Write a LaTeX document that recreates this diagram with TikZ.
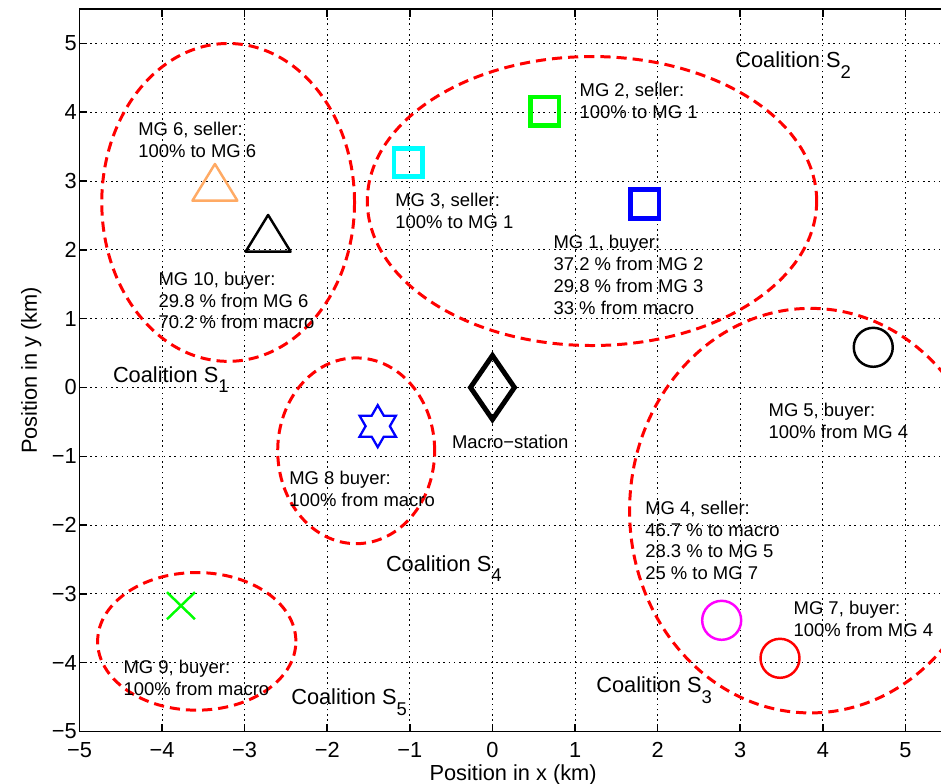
\documentclass[tikz,border=0pt]{standalone}
\usepackage{fontspec}
\setmainfont{Liberation Sans}
\usetikzlibrary{shapes.geometric}
\definecolor{mgorange}{RGB}{255,170,100}
\definecolor{mgcyan}{RGB}{0,255,255}
\definecolor{mgmagenta}{RGB}{255,0,255}
\definecolor{mggreen}{RGB}{0,255,0}
\definecolor{mgblue}{RGB}{0,0,255}
\definecolor{mgred}{RGB}{255,0,0}
\newcommand\coalsub[1]{\raisebox{-6pt}{\fontsize{10.5}{10.5}\selectfont #1}}
\begin{document}
\begin{tikzpicture}[x=1.652cm,y=1.376cm,
  gridline/.style={line width=0.6pt,dash pattern=on 0.9pt off 2.1pt},
  axisline/.style={line width=0.9pt},
  coal/.style={mgred,line width=1.7pt,dash pattern=on 5.8pt off 3.4pt},
  ann/.style={anchor=north west,align=left,inner sep=0pt,font=\fontsize{10.5}{12.4}\selectfont},
  big/.style={inner sep=0pt,font=\fontsize{12.4}{14}\selectfont},
  sqmark/.style={draw,rectangle,line width=2.6pt,minimum size=0.57cm,inner sep=0pt},
  circmark/.style={draw,circle,line width=1.4pt,minimum size=0.78cm,inner sep=0pt},
]
\useasboundingbox (-5.962,-5.763) rectangle (5.430,5.632);
\fill[white] (-5.962,-5.763) rectangle (5.430,5.632);

% grid
\foreach \x in {-4,...,5} \draw[gridline] (\x,-5) -- (\x,5.5);
\foreach \y in {-4,...,5} \draw[gridline] (-5,\y) -- (5.5,\y);

% ticks
\foreach \x in {-5,...,5} {
  \draw[axisline] (\x,-5) -- ++(0pt,4.3pt);
  \draw[axisline] (\x,5.5) -- ++(0pt,-4.3pt);
}
\foreach \y in {-5,...,5} {
  \draw[axisline] (-5,\y) -- ++(4.3pt,0pt);
}
% axes box
\draw[axisline] (-5,5.5) -- (-5,-5) -- (5.5,-5) -- (5.5,5.5) -- cycle;

% tick labels
\foreach \y/\l in {5/5,4/4,3/3,2/2,1/1,0/0,-1/−1,-2/−2,-3/−3,-4/−4,-5/−5}
  \node[big,anchor=east] (yl\y) at (-5.03,\y) {\l};
\foreach \x/\l in {5/5,4/4,3/3,2/2,1/1,0/0,-1/−1,-2/−2,-3/−3,-4/−4,-5/−5}
  \node[big,anchor=center] (xl\x) at (\x,-5.273) {\l};

% axis labels
\node[big,anchor=base] (xlabel) at (0.25,-5.709) {Position in x (km)};
\node[big,anchor=base,rotate=90] (ylabel) at (-5.515,0.25) {Position in y (km)};

% coalitions
\begin{scope}
\clip (-5,-5) rectangle (5.5,5.5);
\draw[coal] (-3.20,2.69) ellipse [x radius=1.53, y radius=2.31];
\draw[coal] (1.205,2.71) ellipse [x radius=2.72, y radius=2.10];
\draw[coal] (3.85,-1.79) ellipse [x radius=2.19, y radius=2.94];
\draw[coal] (-1.65,-0.92) ellipse [x radius=0.95, y radius=1.35];
\draw[coal] (-3.58,-3.69) ellipse [x radius=1.20, y radius=1.00];
\end{scope}

% markers
\coordinate (mg6) at (-3.360,2.982);
\draw[mgorange,line width=1.4pt,line join=round]
  ([yshift=0.367cm]mg6) -- ([xshift=0.45cm,yshift=-0.367cm]mg6) -- ([xshift=-0.45cm,yshift=-0.367cm]mg6) -- cycle;
\coordinate (mg10) at (-2.716,2.241);
\draw[black,line width=1.4pt,line join=round]
  ([yshift=0.367cm]mg10) -- ([xshift=0.45cm,yshift=-0.367cm]mg10) -- ([xshift=-0.45cm,yshift=-0.367cm]mg10) -- cycle;

\node[sqmark,draw=mgcyan] (mg3) at (-1.019,3.270) {};
\node[sqmark,draw=mggreen] (mg2) at (0.632,4.016) {};
\node[sqmark,draw=mgblue] (mg1) at (1.846,2.667) {};

\coordinate (macro) at (0,0);
\draw[line width=2.8pt,line join=miter]
  ([yshift=0.64cm]macro) -- ([xshift=0.44cm]macro) -- ([yshift=-0.64cm]macro) -- ([xshift=-0.44cm]macro) -- cycle;

\coordinate (mg8) at (-1.389,-0.5625);
\draw[mgblue,line width=1.3pt,shift={(mg8)}]
  (90:0.42cm) -- (120:0.2425cm) -- (150:0.42cm) -- (180:0.2425cm) -- (210:0.42cm) -- (240:0.2425cm)
  -- (270:0.42cm) -- (300:0.2425cm) -- (330:0.42cm) -- (0:0.2425cm) -- (30:0.42cm) -- (60:0.2425cm) -- cycle;

\node[circmark,draw=black] (mg5) at (4.610,0.584) {};
\node[circmark,draw=mgmagenta] (mg4) at (2.775,-3.384) {};
\node[circmark,draw=mgred] (mg7) at (3.481,-3.936) {};

\coordinate (mg9) at (-3.771,-3.172);
\draw[mggreen,line width=1.4pt] ([shift={(-0.28cm,0.27cm)}]mg9) -- ([shift={(0.28cm,-0.27cm)}]mg9);
\draw[mggreen,line width=1.4pt] ([shift={(-0.28cm,-0.27cm)}]mg9) -- ([shift={(0.28cm,0.27cm)}]mg9);

% annotations
\node[ann] (t6) at (-4.292,3.857) {MG 6, seller:\\100\% to MG 6};
\node[ann] (t10) at (-4.046,1.685) {MG 10, buyer:\\29.8 \% from MG 6\\70.2 \% from macro};
\node[ann] (t3) at (-1.180,2.823) {MG 3, seller:\\100\% to MG 1};
\node[ann] (t2) at (1.051,4.422) {MG 2, seller:\\100\% to MG 1};
\node[ann] (t1) at (0.736,2.217) {MG 1, buyer:\\37.2 \% from MG 2\\29.8 \% from MG 3\\33 \% from macro};
\node[ann] (t8) at (-2.464,-1.211) {MG 8 buyer:\\100\% from macro};
\node[ann] (t5) at (3.339,-0.218) {MG 5, buyer:\\100\% from MG 4};
\node[ann] (t4) at (1.846,-1.644) {MG 4, seller:\\46.7 \% to macro\\28.3 \% to MG 5\\25 \% to MG 7};
\node[ann] (t7) at (3.642,-3.096) {MG 7, buyer:\\100\% from MG 4};
\node[ann] (t9) at (-4.470,-3.955) {MG 9, buyer:\\100\% from macro};
\node[ann,anchor=west] (tmacro) at (-0.494,-0.788) {Macro−station};

% coalition labels
\node[big,anchor=base west] (s1) at (-4.598,0.078) {Coalition S\coalsub{1}};
\node[big,anchor=base west] (s2) at (2.936,4.646) {Coalition S\coalsub{2}};
\node[big,anchor=base west] (s3) at (1.253,-4.438) {Coalition S\coalsub{3}};
\node[big,anchor=base west] (s4) at (-1.293,-2.669) {Coalition S\coalsub{4}};
\node[big,anchor=base west] (s5) at (-2.440,-4.608) {Coalition S\coalsub{5}};
\end{tikzpicture}
\end{document}
